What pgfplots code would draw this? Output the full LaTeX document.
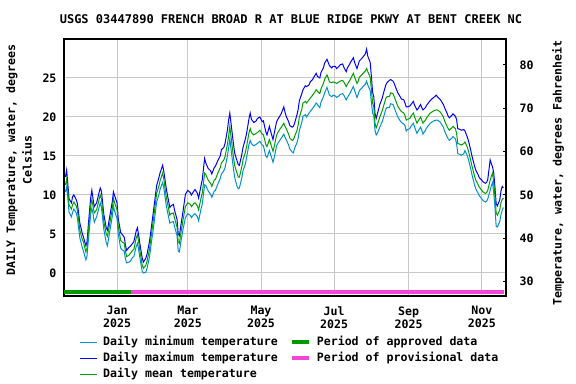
\documentclass[border=0pt]{standalone}
\usepackage{fontspec}
\setmainfont{DejaVu Sans Mono}
\usepackage{pgfplots}
\pgfplotsset{compat=1.18}
\usepackage{pgfplotstable}
\definecolor{cmin}{HTML}{0090D0}
\definecolor{cmax}{HTML}{0000FF}
\definecolor{cmean}{HTML}{00A000}
\definecolor{approved}{HTML}{009900}
\definecolor{provisional}{HTML}{F545D8}
\definecolor{gridgray}{HTML}{C8C8C8}
\newcommand{\lf}{\fontsize{11.6bp}{13bp}\selectfont\bfseries}

\pgfplotstableread{
d min max mean
-43 10.4 12.3 11.3
-42 11.0 13.2 12.0
-41 9.6 11.4 10.5
-40 7.8 9.5 8.7
-38 7.2 9.0 8.2
-37 7.8 9.8 8.8
-36 8.2 10.0 9.1
-34 7.7 9.4 8.6
-33 7.0 8.9 8.0
-31 4.5 6.4 5.5
-29 3.3 5.1 4.3
-28 2.8 4.6 4.0
-26 1.7 3.5 2.7
-25 2.2 4.0 3.2
-24 4.0 6.0 5.1
-22 7.5 9.6 8.5
-21 8.3 10.6 9.4
-20 7.6 9.5 8.6
-19 6.5 8.5 7.7
-17 7.2 9.0 8.1
-15 8.4 10.3 9.4
-14 9.0 10.9 10.0
-13 8.4 10.5 9.5
-11 5.6 7.5 6.6
-9 3.9 5.8 5.0
-8 3.5 5.5 4.7
-6 5.4 7.3 6.4
-4 7.2 9.1 8.2
-3 8.6 10.4 9.6
-2 7.9 9.9 9.0
0 7.0 9.0 8.1
1 5.0 7.0 6.0
3 3.2 5.2 4.2
4 3.0 5.0 4.0
6 2.8 4.6 3.8
7 1.8 3.6 2.8
8 1.3 2.9 2.1
10 1.4 3.3 2.3
11 1.5 3.4 2.5
13 2.0 3.8 2.9
14 2.1 4.0 3.0
16 3.4 5.4 4.5
17 3.8 5.8 4.9
18 3.0 4.9 4.0
19 2.0 3.8 2.9
21 0.2 1.9 1.0
22 0.0 1.4 0.6
24 0.1 1.9 1.0
25 0.6 2.4 1.5
27 2.0 4.0 3.0
28 3.2 5.1 4.2
30 5.4 7.5 6.5
31 6.6 8.7 7.7
33 9.1 11.2 10.2
35 10.1 12.3 11.2
36 10.8 12.9 11.9
38 11.6 13.8 12.8
39 10.9 13.0 12.0
41 8.7 10.9 9.8
42 7.9 10.0 9.0
44 6.4 8.4 7.4
45 6.5 8.6 7.6
47 6.6 8.8 7.7
48 5.9 8.0 7.0
50 4.8 6.9 5.9
51 2.8 5.0 4.0
52 2.7 4.8 3.8
53 3.8 5.9 4.9
55 5.6 7.9 6.8
57 7.1 10.1 8.5
59 7.6 10.6 9.0
61 7.4 10.3 8.8
62 7.1 10.0 8.5
64 7.5 10.5 8.9
65 7.6 10.7 9.0
67 7.2 10.2 8.6
68 6.7 9.6 8.1
70 8.2 11.2 9.6
71 8.8 11.9 10.2
73 11.3 14.7 12.8
74 11.2 14.1 12.6
76 10.5 13.4 11.9
78 10.1 13.1 11.5
79 9.7 12.7 11.1
81 10.5 13.5 11.9
82 10.6 13.7 12.0
84 11.4 14.4 12.8
86 12.1 15.0 13.5
87 12.7 15.8 14.1
89 13.1 16.1 14.5
90 13.5 16.6 14.9
92 15.0 18.3 16.5
93 16.0 19.6 17.5
94 17.2 20.5 18.8
95 15.9 19.2 17.5
97 13.4 16.6 14.9
98 12.3 15.4 13.8
100 11.1 14.4 12.8
101 10.8 13.9 12.3
102 10.9 13.8 12.3
104 12.2 15.2 13.6
105 13.1 16.1 14.5
107 14.0 17.2 15.5
108 14.8 17.9 16.2
110 16.5 19.8 18.0
111 17.0 20.5 18.5
112 16.6 19.7 18.0
114 16.3 19.3 17.7
116 16.5 19.5 17.9
117 16.6 19.8 18.0
119 16.9 20.0 18.3
121 16.4 19.4 17.8
122 16.3 19.5 17.7
124 15.0 18.1 16.5
125 14.8 17.7 16.2
127 15.7 18.8 17.1
128 15.2 18.2 16.6
130 14.2 17.1 15.6
131 14.8 17.9 16.2
133 16.3 19.4 17.7
134 16.6 19.7 18.0
136 17.1 20.2 18.5
137 17.3 20.5 18.7
139 17.8 21.3 19.2
140 17.4 20.6 18.8
141 17.1 20.1 18.5
143 16.4 19.4 17.8
144 15.9 18.9 17.3
146 15.5 18.7 17.0
147 15.4 18.8 17.1
148 16.0 19.2 17.5
150 16.7 20.3 18.3
151 17.3 21.0 19.0
152 18.3 22.1 20.0
154 19.3 23.0 21.0
155 20.1 23.5 21.8
157 20.3 24.0 22.0
158 20.0 23.9 21.8
160 20.5 24.1 22.2
161 20.7 24.5 22.4
163 21.1 24.8 22.8
164 21.3 25.1 23.0
166 21.8 25.6 23.5
167 21.6 25.2 23.3
169 21.2 25.0 23.0
170 21.9 25.7 23.6
172 22.6 26.3 24.3
173 23.1 26.9 24.8
175 23.8 27.4 25.4
176 23.3 27.0 25.0
177 22.8 26.6 24.5
179 22.6 26.3 24.4
180 22.8 26.5 24.5
182 22.7 26.5 24.4
183 22.5 26.2 24.3
185 22.7 26.5 24.5
186 22.9 26.7 24.6
188 23.0 26.8 24.7
189 22.8 26.4 24.5
191 22.2 25.8 23.9
192 22.5 26.3 24.2
194 23.0 26.8 24.7
195 23.3 27.1 25.0
197 23.9 27.6 25.6
198 23.4 27.0 25.1
200 22.5 26.2 24.3
201 22.9 26.7 24.6
202 23.4 27.2 25.1
204 23.7 27.5 25.4
205 23.9 27.7 25.6
207 24.2 28.1 25.9
208 24.6 28.7 26.2
209 24.1 27.8 25.8
211 23.4 27.0 25.1
212 21.9 25.2 23.5
213 20.5 23.2 21.8
214 20.2 22.6 21.3
215 18.3 20.5 19.2
216 17.7 19.8 18.6
217 17.9 20.4 19.0
218 18.3 21.0 19.5
219 18.7 21.6 20.0
221 19.4 22.4 20.8
222 19.9 23.0 21.3
224 21.0 24.1 22.4
225 21.2 24.4 22.6
227 21.2 24.7 22.6
228 21.7 24.8 23.1
230 21.6 24.6 23.0
231 21.2 24.3 22.6
233 20.4 23.5 21.8
234 20.0 23.1 21.4
236 19.5 22.6 20.9
237 19.3 22.3 20.7
239 19.1 22.2 20.5
240 18.9 21.8 20.2
241 18.2 21.3 19.6
242 18.4 21.3 19.7
244 18.5 21.4 19.8
245 18.8 21.6 20.1
247 19.2 22.0 20.5
248 18.7 21.5 20.0
250 17.9 20.9 19.2
251 18.2 21.1 19.5
253 18.7 21.6 20.0
254 18.3 21.2 19.6
255 17.8 20.9 19.2
257 18.3 21.2 19.6
258 18.6 21.5 19.9
260 19.0 21.9 20.3
261 19.2 22.1 20.5
263 19.4 22.4 20.7
264 19.5 22.5 20.8
266 19.6 22.8 20.9
267 19.6 22.6 20.9
269 19.4 22.3 20.7
270 19.2 22.1 20.5
272 18.7 21.6 20.0
273 18.2 21.2 19.5
275 17.5 20.5 18.8
276 17.2 20.1 18.5
277 17.0 19.9 18.3
279 17.3 20.2 18.6
280 17.5 20.4 18.8
282 17.2 20.1 18.5
283 16.6 19.7 17.9
284 15.3 18.5 16.6
286 15.2 18.4 16.5
287 15.1 18.3 16.4
289 15.3 18.4 16.6
290 15.7 18.2 16.8
292 15.0 17.4 16.1
293 14.5 16.9 15.6
295 13.2 15.6 14.3
296 12.5 14.9 13.6
298 11.3 13.7 12.4
299 10.8 13.2 11.9
301 10.2 12.6 11.3
302 9.9 12.2 11.0
304 9.5 11.9 10.6
305 9.3 11.7 10.4
307 9.1 11.5 10.2
308 9.2 11.6 10.3
309 9.5 12.0 10.6
311 10.6 14.5 11.9
312 11.2 14.0 12.4
313 11.6 13.6 12.8
314 10.2 12.8 11.5
315 8.4 11.0 9.8
316 6.0 8.9 7.7
317 5.9 8.6 7.4
319 6.6 9.4 8.1
320 7.5 10.5 9.0
321 8.0 11.1 9.4
322 8.4 10.9 9.6
}\tempdata

\begin{document}
\begin{tikzpicture}
\path[use as bounding box] (0,0) rectangle (576bp,384bp);
\begin{axis}[
  at={(64bp,88bp)}, anchor=south west, scale only axis,
  width=442bp, height=257bp,
  xmin=-44.2, xmax=324.2, ymin=-2.95, ymax=30,
  xtick={0,59,120,181,243,304},
  xticklabels={{Jan\\2025},{Mar\\2025},{May\\2025},{Jul\\2025},{Sep\\2025},{Nov\\2025}},
  xticklabel style={align=center, font=\fontsize{11.6bp}{13bp}\selectfont\bfseries, yshift=-7bp},
  ytick={0,5,10,15,20,25},
  yticklabel style={font=\lf, xshift=-4bp},
  /pgf/number format/assume math mode=true,
  grid=major, major grid style={color=gridgray, line width=1bp},
  major tick length=0pt,
  axis line style={line width=1.2bp},
  legend columns=2,
  legend cell align=left,
  legend style={at={(axis description cs:0.034,-0.148)}, anchor=north west,
    draw=none, fill=none, font=\lf, inner sep=0pt,
    nodes={inner sep=2bp, text height=9bp, text depth=3bp},
    /tikz/every odd column/.append style={column sep=4bp},
    /tikz/every even column/.append style={column sep=10bp}},
  legend image code/.code={\draw[#1] (0bp,0bp) -- (17bp,0bp);},
]
\addplot[cmin, line width=1bp] table[x=d, y=min] {\tempdata};
\addlegendentry{Daily minimum temperature}
\addplot[approved, line width=4bp] coordinates {(-44.2,-2.4) (11.4,-2.4)};
\addlegendentry{Period of approved data}
\addplot[cmax, line width=1bp] table[x=d, y=max] {\tempdata};
\addlegendentry{Daily maximum temperature}
\addplot[provisional, line width=4bp] coordinates {(11.4,-2.4) (322.5,-2.4)};
\addlegendentry{Period of provisional data}
\addplot[cmean, line width=1bp] table[x=d, y=mean] {\tempdata};
\addlegendentry{Daily mean temperature}
\end{axis}
\begin{axis}[
  at={(64bp,88bp)}, anchor=south west, scale only axis,
  width=442bp, height=257bp,
  xmin=-44.2, xmax=324.2, ymin=26.69, ymax=86,
  axis y line*=right, axis x line=none,
  ytick={30,40,50,60,70,80},
  yticklabel style={font=\lf, xshift=10bp},
  /pgf/number format/assume math mode=true,
  major tick length=3bp, tick style={line width=1bp, black},
  axis line style={line width=1.2bp},
]
\addplot[draw=none] coordinates {(0,50)};
\end{axis}
\node[font=\fontsize{12bp}{14bp}\selectfont\bfseries] at (291bp,365bp) {USGS 03447890 FRENCH BROAD R AT BLUE RIDGE PKWY AT BENT CREEK NC};
\node[font=\lf, rotate=90] at (12bp,224bp) {DAILY Temperature, water, degrees};
\node[font=\lf, rotate=90] at (27bp,224bp) {Celsius};
\node[font=\lf, rotate=90] at (558bp,211bp) {Temperature, water, degrees Fahrenheit};
\end{tikzpicture}
\end{document}
